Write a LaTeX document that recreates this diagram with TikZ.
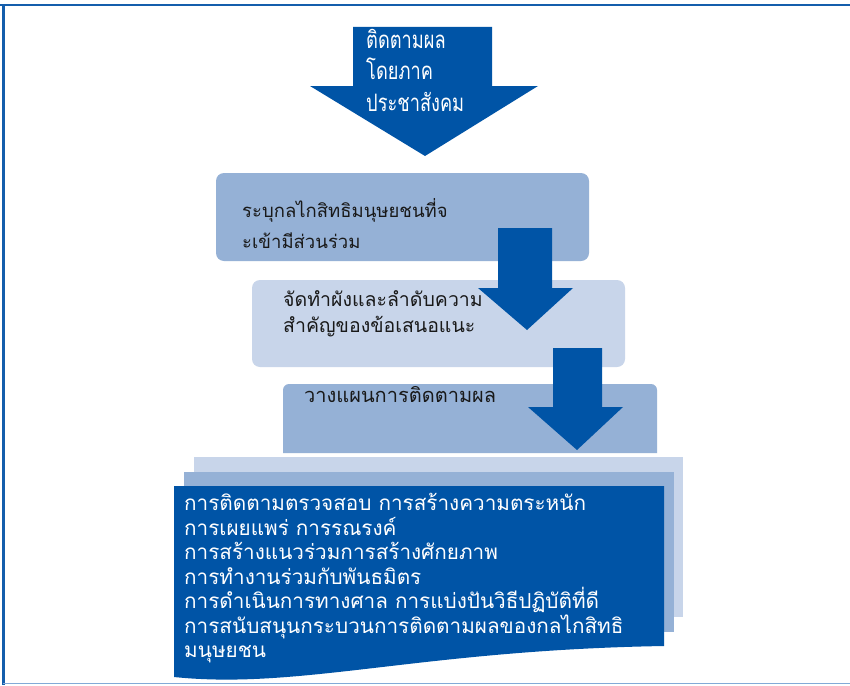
\documentclass[tikz,border=0pt]{standalone}
\usepackage{fontspec}
\newfontfamily\thai[Script=Thai]{Loma}
\newfontfamily\thaicond[Script=Thai,FakeStretch=0.76]{Loma}
\definecolor{darkblue}{RGB}{0,84,166}
\definecolor{midblue}{RGB}{149,177,214}
\definecolor{lightblue}{RGB}{200,213,234}
\definecolor{framedark}{RGB}{20,94,172}
\definecolor{framelight}{RGB}{130,170,215}
\tikzset{
  blockarrow/.style={fill=darkblue, draw=none},
  stepbox/.style={draw=none, rounded corners=8pt},
  boxtext/.style={anchor=north west, align=left, inner sep=0pt, text=black!90},
  arrowtext/.style={anchor=north west, align=left, inner sep=0pt, text=white,
    font=\thaicond\fontsize{24}{31.5}\selectfont},
  listtext/.style={anchor=north west, align=left, inner sep=0pt, text=white,
    font=\thai\fontsize{20.7}{24.5}\selectfont}
}
\begin{document}
\begin{tikzpicture}[x=1pt,y=-1pt]
\useasboundingbox (0,0) rectangle (850,685);
\fill[white] (0,0) rectangle (850,685);
% frame
\draw[framedark, line width=2.5pt] (0,5) -- (850,5);
\draw[framedark, line width=3pt] (3,5) -- (3,685);
\draw[framelight, line width=1.5pt] (3,683.5) -- (850,683.5);
% top arrow
\fill[blockarrow] (353,27) -- (492,27) -- (492,86) -- (538,86) -- (425,156) -- (310,86) -- (353,86) -- cycle;
\node[arrowtext] (top) at (366,29) {ติดตามผล\\โดยภาค\\ประชาสังคม};
% box 1
\fill[midblue, stepbox] (216,173) rectangle (589,261);
\node[boxtext, font=\thai\fontsize{18.5}{31}\selectfont] (b1) at (242,198) {ระบุกลไกสิทธิมนุษยชนที่จ\\ะเข้ามีส่วนร่วม};
% box 2
\fill[lightblue, stepbox] (252,280) rectangle (625,367);
\node[boxtext, font=\thai\fontsize{19.5}{26}\selectfont] (b2) at (283,290) {จัดทำผังและลำดับความ\\สำคัญของข้อเสนอแนะ};
% arrow 1
\fill[blockarrow] (498,228) -- (552,228) -- (552,288) -- (573,288) -- (527,330) -- (478,288) -- (498,288) -- cycle;
% box 3
\fill[midblue] (283,453) -- (283,390) [rounded corners=6pt] -- (283,384) -- (657,384) [sharp corners] -- (657,453) -- cycle;
\node[boxtext, font=\thai\fontsize{20}{26}\selectfont] (b3) at (304,386) {วางแผนการติดตามผล};
% arrow 2
\fill[blockarrow] (553,348) -- (602,348) -- (602,407) -- (623,407) -- (577,450) -- (528,407) -- (553,407) -- cycle;
% stacked document
\fill[lightblue] (194,457) rectangle (683,617);
\fill[midblue] (184,472) rectangle (674,632);
\fill[darkblue] (174,486) -- (664,486) -- (664,646) .. controls (420,650) and (300,690) .. (174,677) -- cycle;
\node[listtext] (list) at (184,493.5) {การติดตามตรวจสอบ การสร้างความตระหนัก\\การเผยแพร่ การรณรงค์\\การสร้างแนวร่วมการสร้างศักยภาพ\\การทำงานร่วมกับพันธมิตร\\การดำเนินการทางศาล การแบ่งปันวิธีปฏิบัติที่ดี\\การสนับสนุนกระบวนการติดตามผลของกลไกสิทธิ\\มนุษยชน};
\end{tikzpicture}
\end{document}
